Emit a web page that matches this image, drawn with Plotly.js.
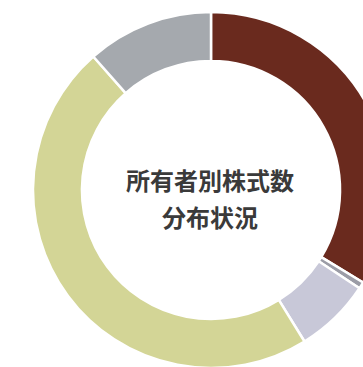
<!DOCTYPE html>
<html>
<head>
<meta charset="utf-8">
<script src="https://cdn.plot.ly/plotly-3.0.1.min.js"></script>
<style>
html,body{margin:0;padding:0;overflow:hidden;background:#ffffff;}
#chart{position:absolute;left:0;top:0;}
</style>
</head>
<body>
<div id="chart"></div>
<script>
const categories = ["金融機関", "金融商品取引業者", "その他の法人", "個人・その他", "外国法人等"];
const shares = [33.7, 0.6, 6.9, 47.3, 11.5];
const colors = ["#6a2a1e", "#9b9ca6", "#c8c8d8", "#d3d596", "#a5a9ae"];
const centerLines = ["所有者別株式数", "分布状況"];

const W = 420, H = 400;
const cx = 211, cy = 190, R = 178;

const trace = {
  type: "pie",
  labels: categories,
  values: shares,
  sort: false,
  direction: "clockwise",
  rotation: 0,
  hole: 0.725,
  textinfo: "none",
  hoverinfo: "label+percent",
  marker: {colors: colors, line: {color: "#ffffff", width: 2.5}},
  domain: {x: [(cx - R) / W, (cx + R) / W], y: [(H - (cy + R)) / H, (H - (cy - R)) / H]}
};

const layout = {
  width: W, height: H,
  margin: {l: 0, r: 0, t: 0, b: 0},
  showlegend: false,
  paper_bgcolor: "#ffffff",
  annotations: [
    {text: "<b>" + centerLines[0] + "</b>", x: 209.5 / W, y: 1 - 179 / H, xref: "paper", yref: "paper",
     showarrow: false, xanchor: "center", yanchor: "middle",
     font: {family: "Noto Sans CJK JP", size: 24, color: "#3a3a3a"}},
    {text: "<b>" + centerLines[1] + "</b>", x: 210 / W, y: 1 - 216 / H, xref: "paper", yref: "paper",
     showarrow: false, xanchor: "center", yanchor: "middle",
     font: {family: "Noto Sans CJK JP", size: 24, color: "#3a3a3a"}}
  ]
};

Plotly.newPlot("chart", [trace], layout, {displayModeBar: false, staticPlot: true});
</script>
</body>
</html>
